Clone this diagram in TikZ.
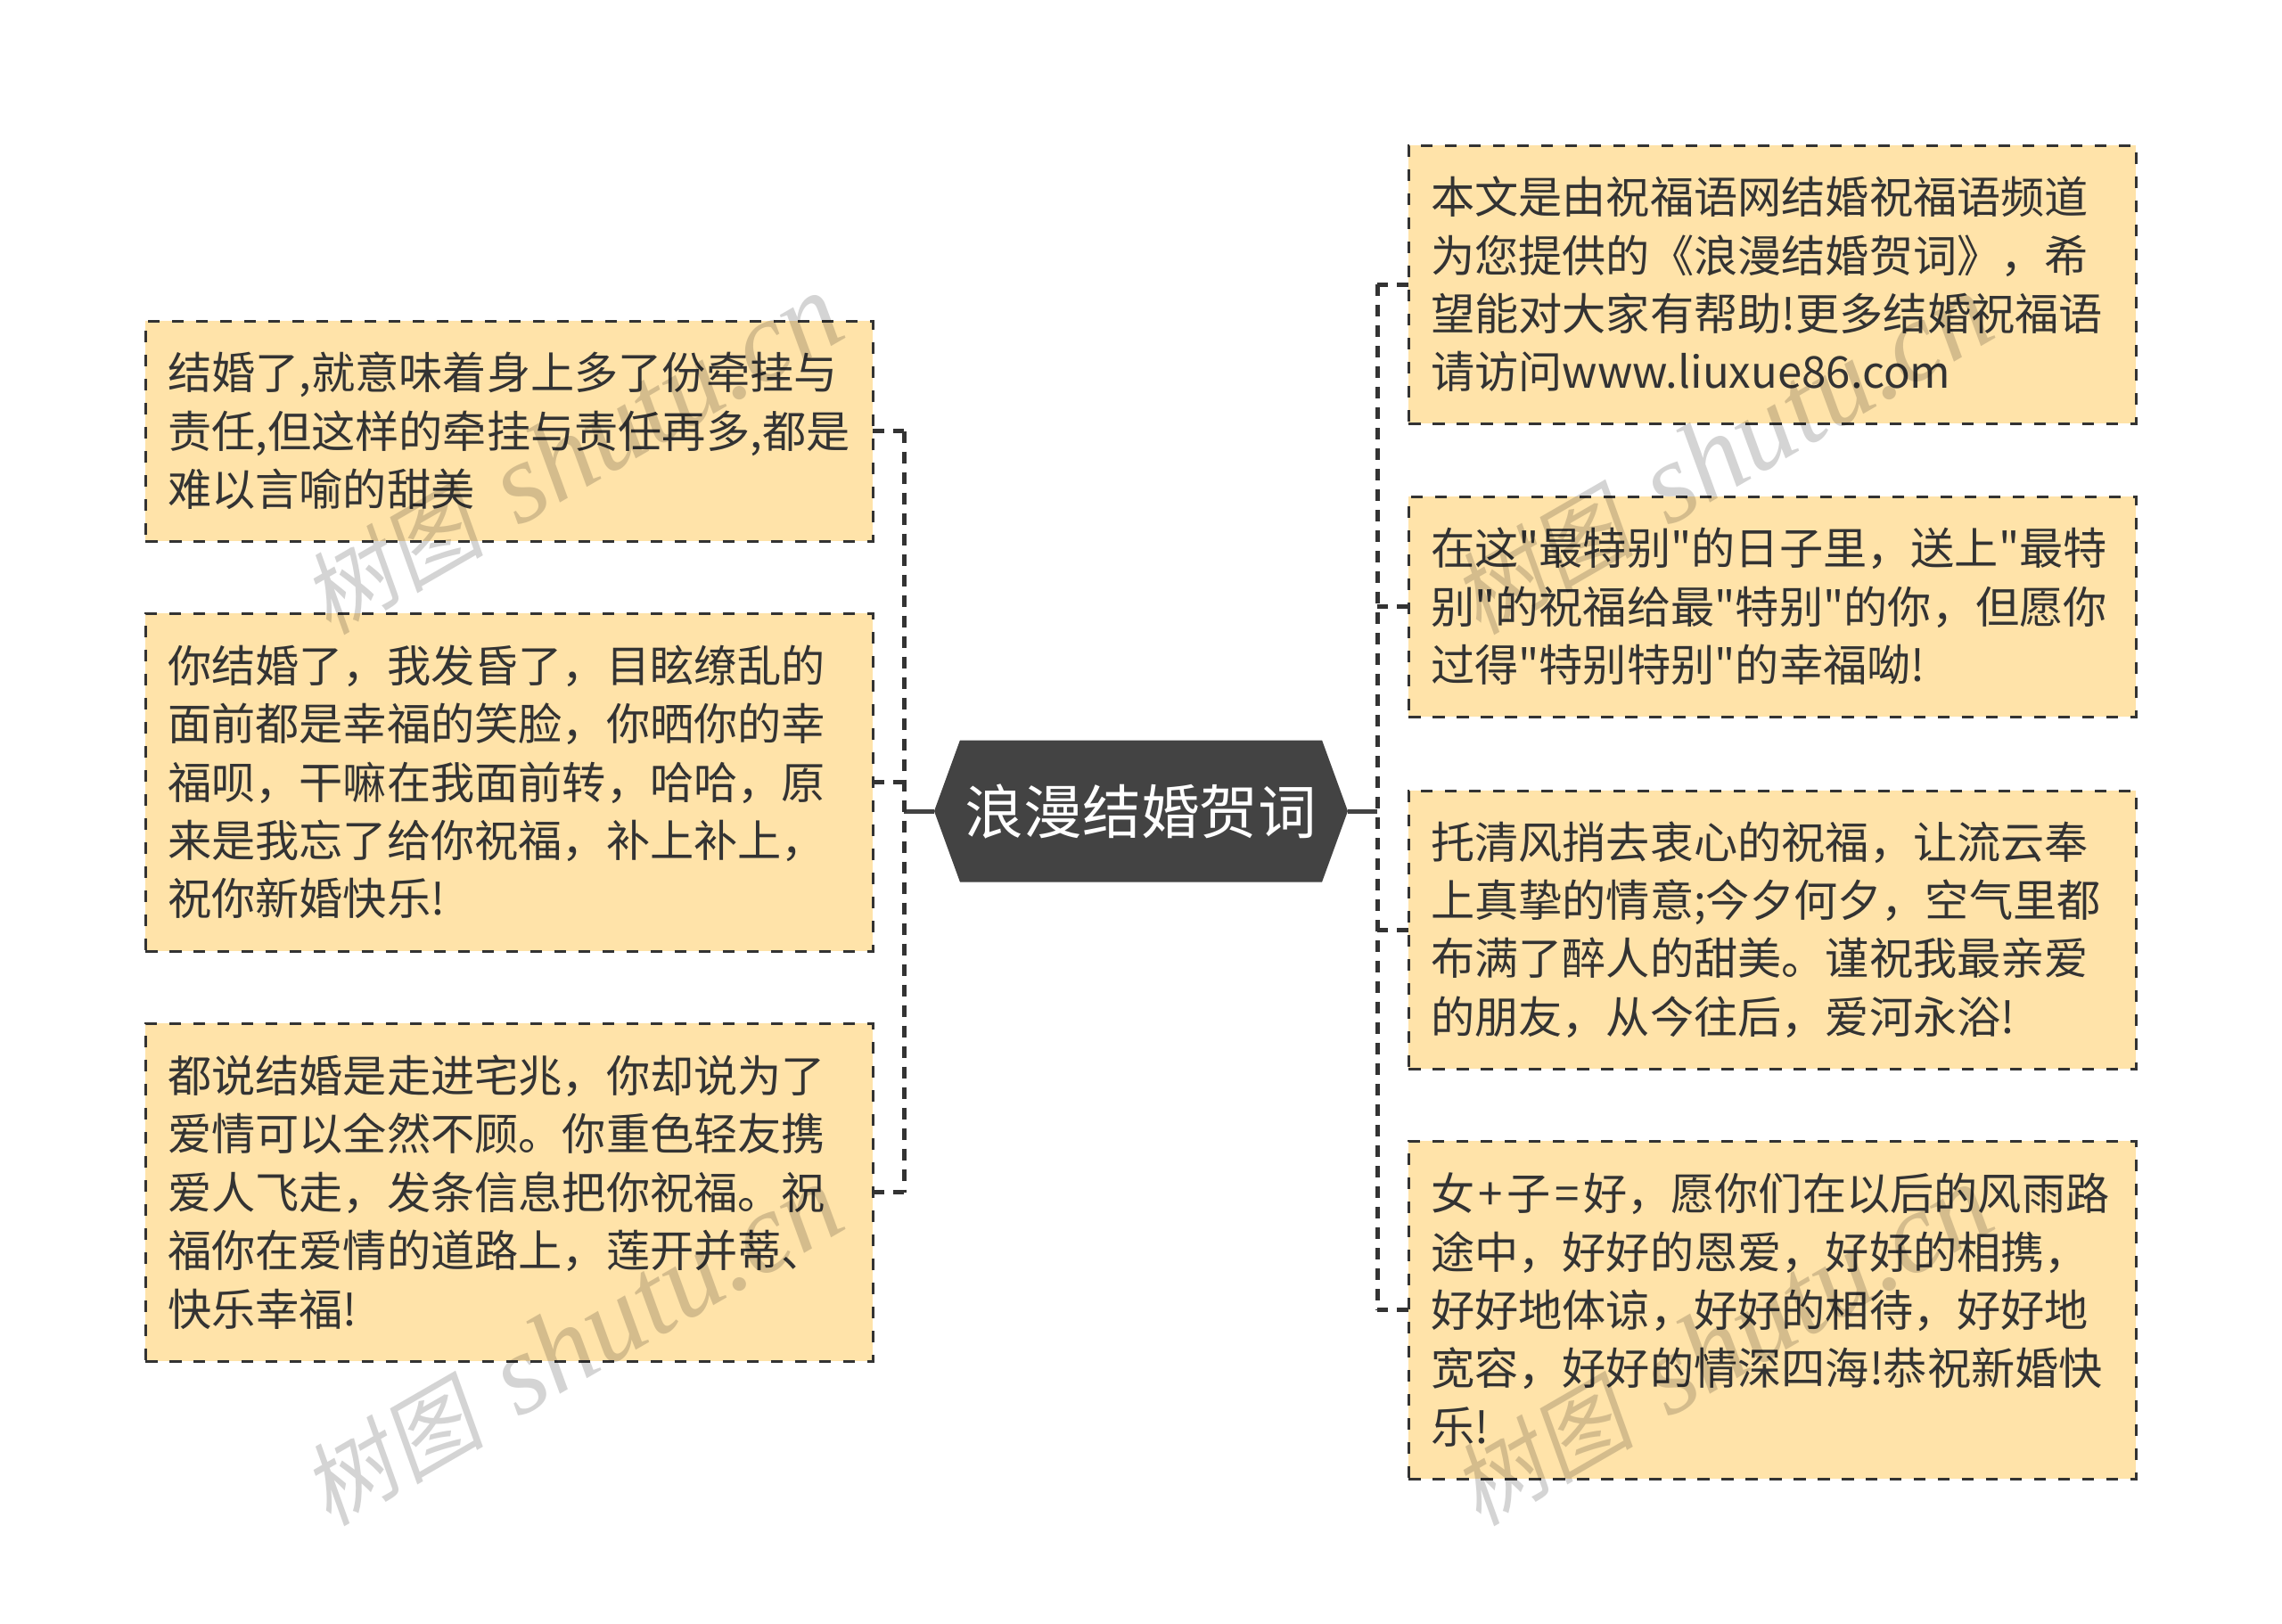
\documentclass[tikz,border=0pt]{standalone}
\usepackage{fontspec}
\newfontfamily\cjkfont{Noto Sans CJK SC}
\newfontfamily\markcjk[FakeSlant=0.18]{Noto Sans CJK SC}
\newfontfamily\marklatin{Liberation Serif}
\usepackage{tikz}
\usetikzlibrary{shapes}
\usetikzlibrary{positioning}
\definecolor{boxfill}{HTML}{FFE3A9}
\definecolor{inkdark}{HTML}{434343}
\definecolor{inktext}{HTML}{333333}
\tikzstyle{note}=[rectangle,draw=inktext,fill=boxfill,text=inktext,line width=0.03cm,dash pattern=on 0.135cm off 0.135cm,outer sep=0pt,inner xsep=0.25cm,inner ysep=0pt,text width=7.66cm,align=left,font=\cjkfont\fontsize{14pt}{18.6pt}\selectfont]
\tikzstyle{note3}=[note,minimum height=2.47cm]
\tikzstyle{note4}=[note,minimum height=3.12cm]
\tikzstyle{note5}=[note,minimum height=3.79cm]
\tikzstyle{title}=[signal,signal to=east and west,signal pointer angle=140,fill=inkdark,text=white,outer sep=0pt,inner sep=0pt,minimum width=4.64cm,minimum height=1.59cm,font=\cjkfont\fontsize{18.7pt}{22pt}\selectfont]
\tikzstyle{link}=[draw=inktext,line width=0.05cm,dash pattern=on 0.13cm off 0.1cm]
\tikzstyle{stem}=[draw=inkdark,line width=0.05cm]
\tikzstyle{stamp}=[rotate=30,text=black,opacity=0.17,inner sep=0pt]
\newcommand{\shutumark}{{\markcjk\fontsize{29pt}{29pt}\selectfont 树图}\kern0.4cm{\marklatin\itshape\fontsize{36.5pt}{36.5pt}\selectfont shutu.cn}}
\begin{document}
\begin{tikzpicture}
	\useasboundingbox (0,0) rectangle (25.6,-18.21);
	\node[title] (hub) at (12.8,-9.1) {浪漫结婚贺词};
	
	\node[note3,anchor=north west] (left1) at (1.63,-3.6) {结婚了,就意味着身上多了份牵挂与\\责任,但这样的牵挂与责任再多,都是\\难以言喻的甜美};
	\node[note5,below=0.81cm of left1] (left2) {你结婚了，我发昏了，目眩缭乱的\\面前都是幸福的笑脸，你晒你的幸\\福呗，干嘛在我面前转，哈哈，原\\来是我忘了给你祝福，补上补上，\\祝你新婚快乐!};
	\node[note5,below=0.81cm of left2] (left3) {都说结婚是走进宅兆，你却说为了\\爱情可以全然不顾。你重色轻友携\\爱人飞走，发条信息把你祝福。祝\\福你在爱情的道路上，莲开并蒂、\\快乐幸福!};
	
	\node[note4,anchor=north west] (right1) at (15.8,-1.63) {本文是由祝福语网结婚祝福语频道\\为您提供的《浪漫结婚贺词》，希\\望能对大家有帮助!更多结婚祝福语\\请访问www.liuxue86.com};
	\node[note3,below=0.82cm of right1] (right2) {在这"最特别"的日子里，送上"最特\\别"的祝福给最"特别"的你，但愿你\\过得"特别特别"的幸福呦!};
	\node[note4,below=0.83cm of right2] (right3) {托清风捎去衷心的祝福，让流云奉\\上真挚的情意;今夕何夕，空气里都\\布满了醉人的甜美。谨祝我最亲爱\\的朋友，从今往后，爱河永浴!};
	\node[note5,below=0.81cm of right3] (right4) {女\kern0.045cm+\kern0.045cm子\kern0.045cm=\kern0.045cm好，愿你们在以后的风雨路\\途中，好好的恩爱，好好的相携，\\好好地体谅，好好的相待，好好地\\宽容，好好的情深四海!恭祝新婚快\\乐!};
	
	\coordinate (leftbus) at (10.14,-9.1);
	\coordinate (rightbus) at (15.45,-9.1);
	
	\draw[stem] (hub.west) -- (leftbus);
	\draw[stem] (hub.east) -- (rightbus);
	
	\draw[link] (left1.east -| leftbus) -- (left3.east -| leftbus);
	\draw[link] (right1.west -| rightbus) -- (right4.west -| rightbus);
	\foreach \n in {left1,left2,left3} {
		\draw[link] (\n.east) -- (\n.east -| leftbus);
	}
	\foreach \n in {right1,right2,right3,right4} {
		\draw[link] (\n.west) -- (\n.west -| rightbus);
	}
	
	\node[stamp] (mark1) at (6.42,-5.1) {\shutumark};
	\node[stamp] (mark2) at (6.42,-15.1) {\shutumark};
	\node[stamp] (mark3) at (19.32,-5.1) {\shutumark};
	\node[stamp] (mark4) at (19.32,-15.1) {\shutumark};
\end{tikzpicture}
\end{document}
